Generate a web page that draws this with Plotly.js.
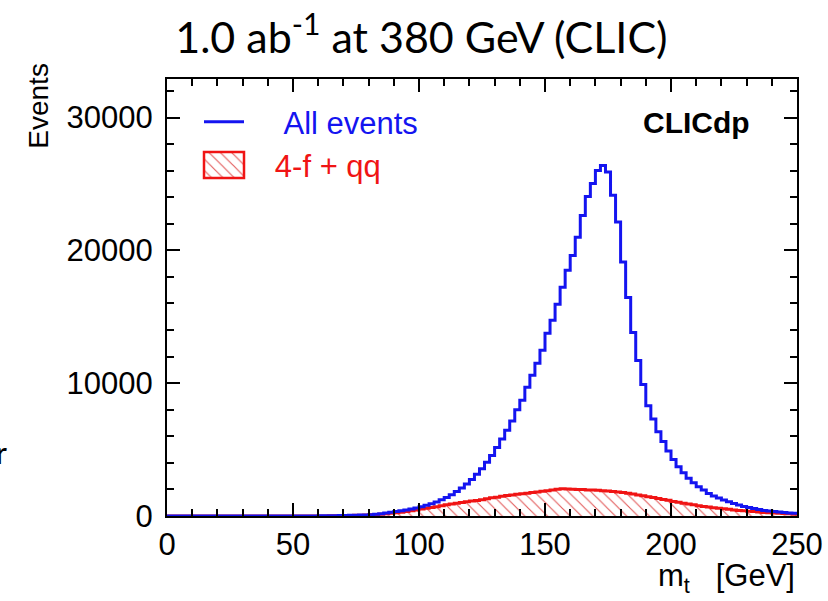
<!DOCTYPE html>
<html>
<head>
<meta charset="utf-8">
<script src="https://cdn.plot.ly/plotly-3.0.1.min.js"></script>
<style>html,body{margin:0;padding:0;background:#fff;}#chart{width:828px;height:601px;}</style>
</head>
<body>
<div id="chart"></div>
<script>
// Histogram: 2 GeV bins from 0 to 250 GeV (125 bins), bin i covers [2i, 2i+2]
const binWidth = 2;
const xMin = 0;
// All events (blue)
const allEvents = [
  0,0,0,0,0,0,0,0,0,0,
  0,0,0,0,0,0,0,0,0,0,
  0,0,0,0,0,0,0,0,0,0,
  10,15,20,25,30,40,50,60,70,80,
  100,130,170,220,280,340,400,460,530,610,
  700,800,920,1060,1220,1400,1600,1850,2100,2400,
  2750,3150,3550,4050,4550,5150,5800,6450,7150,8000,
  8720,9700,10600,11500,12480,13760,14740,15940,17220,18500,
  19620,20980,22630,24060,25040,26020,26390,25900,24140,22130,
  19120,16450,13820,11700,9900,8300,7300,6350,5600,4900,
  4250,3700,3250,2850,2500,2200,1950,1700,1500,1350,
  1200,1080,950,820,720,640,560,480,420,380,
  340,300,260,230,200
];
// 4-f + qq background (red, hatched)
const bkg4fqq = [
  0,0,0,0,0,0,0,0,0,0,
  0,0,0,0,0,0,0,0,0,0,
  0,0,0,0,0,0,0,0,0,0,
  0,5,10,15,20,30,40,50,60,70,
  85,100,130,160,200,240,290,340,400,460,
  520,580,640,700,770,840,900,960,1020,1080,
  1120,1170,1230,1300,1370,1420,1480,1540,1590,1640,
  1680,1720,1760,1800,1860,1910,1960,2010,2050,2030,
  2010,2000,1990,1960,1950,1930,1900,1880,1850,1800,
  1760,1710,1650,1580,1520,1450,1390,1320,1250,1180,
  1100,1030,960,900,840,780,720,670,620,580,
  540,500,460,420,390,360,330,300,270,250,
  220,200,180,160,140
];
const xTickVals = [0,50,100,150,200,250];
const yTickVals = [0,10000,20000,30000];
const titleText = '1.0 ab<sup>-1</sup> at 380 GeV (CLIC)';
const nameAll = 'All events';
const nameBkg = '4-f + qq';
const yTitle = 'Events';

function stepX(vals){ const xs = vals.map((v,i)=> xMin + i*binWidth); xs.push(xMin + vals.length*binWidth); return xs; }
function stepY(vals){ const ys = vals.slice(); ys.push(vals[vals.length-1]); return ys; }

const BLUE = '#1414f0';
const RED = '#f01414';
const font = 'Liberation Sans, Arial, Helvetica, sans-serif';
const NB = '\u00A0';

const traces = [
  {
    x: stepX(bkg4fqq), y: stepY(bkg4fqq), type: 'scatter', mode: 'lines',
    line: {shape: 'hv', color: RED, width: 3},
    fill: 'tozeroy', fillcolor: 'rgba(0,0,0,0)',
    fillpattern: {shape: '\\', fgcolor: '#e25a5a', bgcolor: 'rgba(255,255,255,0)', size: 8, solidity: 0.14},
    name: '<span style="color:' + RED + '">' + NB + NB + NB + nameBkg + '</span>',
    legendrank: 2, hoverinfo: 'skip'
  },
  {
    x: stepX(allEvents), y: stepY(allEvents), type: 'scatter', mode: 'lines',
    line: {shape: 'hv', color: BLUE, width: 3},
    name: '<span style="color:' + BLUE + '">' + NB + NB + NB + NB + nameAll + '</span>',
    legendrank: 1, hoverinfo: 'skip'
  }
];

const layout = {
  width: 828, height: 601,
  margin: {l: 167, r: 31, t: 79, b: 85, pad: 0},
  paper_bgcolor: '#fff', plot_bgcolor: '#fff',
  font: {family: font, size: 31, color: '#000'},
  title: {text: titleText, font: {family: 'Lato, Open Sans, sans-serif', size: 43, color: '#000'},
          x: 0.509, xref: 'container', xanchor: 'center', y: 0.937, yref: 'container', yanchor: 'middle'},
  showlegend: true,
  legend: {x: 0.0508, y: 0.963, xanchor: 'left', yanchor: 'top', bgcolor: 'rgba(0,0,0,0)',
           font: {family: font, size: 31}, itemwidth: 40, traceorder: 'normal', tracegroupgap: 0},
  xaxis: {
    range: [0, 250], tickvals: xTickVals, ticktext: xTickVals.map(String),
    ticks: 'inside', ticklen: 13, tickwidth: 2, tickcolor: '#000',
    showline: true, linewidth: 2, linecolor: '#000', mirror: 'ticks',
    showgrid: false, zeroline: false,
    tickfont: {family: font, size: 31},
    minor: {dtick: 10, tick0: 0, ticks: 'inside', ticklen: 7, tickwidth: 2, tickcolor: '#000', showgrid: false}
  },
  yaxis: {
    range: [0, 32900], tickvals: yTickVals, ticktext: yTickVals.map(String),
    ticks: 'inside', ticklen: 13, tickwidth: 2, tickcolor: '#000',
    showline: true, linewidth: 2, linecolor: '#000', mirror: 'ticks',
    showgrid: false, zeroline: false,
    tickfont: {family: font, size: 31}, ticklabelstandoff: 6,
    minor: {dtick: 2000, tick0: 0, ticks: 'inside', ticklen: 7, tickwidth: 2, tickcolor: '#000', showgrid: false}
  },
  annotations: [
    {text: yTitle, xref: 'paper', yref: 'paper', x: -0.204, y: 0.94, xanchor: 'center', yanchor: 'middle',
     textangle: -90, showarrow: false, font: {family: font, size: 28, color: '#000'}},
    {text: 'm<sub>t</sub>' + NB + NB + NB + '[GeV]', xref: 'paper', yref: 'paper', x: 1.0, y: -0.142, xanchor: 'right', yanchor: 'middle',
     showarrow: false, font: {family: font, size: 31, color: '#000'}},
    {text: '<b>CLICdp</b>', xref: 'paper', yref: 'paper', x: 0.9286, y: 0.9016, xanchor: 'right', yanchor: 'middle',
     showarrow: false, font: {family: font, size: 30, color: '#000'}},
    {text: 'r', xref: 'paper', yref: 'paper', x: -0.262, y: 0.146, xanchor: 'center', yanchor: 'middle',
     showarrow: false, font: {family: 'Lato, sans-serif', size: 30, color: '#000'}}
  ]
};

Plotly.newPlot('chart', traces, layout, {displayModeBar: false, responsive: false, staticPlot: true}).then(function(gd){
  // Render the background legend symbol as a hatched box with a red frame (ROOT style)
  document.querySelectorAll('#chart .legend .traces').forEach(function(g){
    const fill = g.querySelector('path.js-fill');
    if (fill) {
      const line = g.querySelector('path.js-line');
      fill.setAttribute('d', 'M5,-13h40v26h-40z');
      fill.style.stroke = RED;
      fill.style.strokeWidth = '2.5px';
      if (line) line.style.display = 'none';
    }
  });
});
</script>
</body>
</html>
